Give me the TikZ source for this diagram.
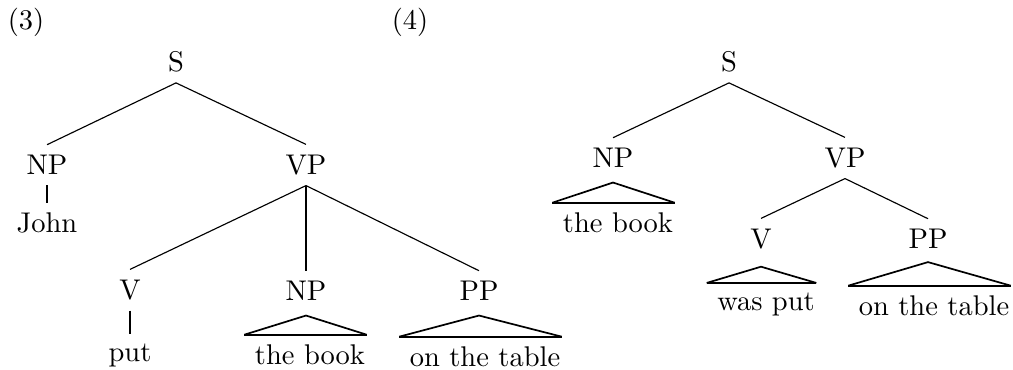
\documentclass[tikz,border=0pt]{standalone}
\usepackage{tikz}
\begin{document}
\begin{tikzpicture}[x=0.351pt,y=-0.351pt,cat/.style={inner sep=3.5pt},word/.style={anchor=base,inner xsep=0pt,inner ysep=3.5pt},branch/.style={thin},unary/.style={thick},roof/.style={semithick},roofbase/.style={thick}]
\useasboundingbox (0,0) rectangle (1013,370);
\node (exA) at (26,22) {(3)};
\node[cat] (SA) at (176,62) {S};
\node[cat] (NPA) at (47,165) {NP};
\node[cat] (VPA) at (306,165) {VP};
\node[word] (john) at (47,233) {John};
\node[cat] (VA) at (130,290) {V};
\node[cat] (NPAb) at (306,291) {NP};
\node[cat] (PPA) at (479,291) {PP};
\node[word] (putA) at (130,362) {put};
\node[word] (bookA) at (310,365) {the book};
\node[word] (tableA) at (485,367) {on the table};
\draw[branch] (SA.south)--(NPA.north);
\draw[branch] (SA.south)--(VPA.north);
\draw[unary] (NPA.south)--(NPA.south|-john.north);
\draw[branch] (VPA.south)--(VA.north);
\draw[unary] (VPA.south)--(NPAb.north);
\draw[branch] (VPA.south)--(PPA.north);
\draw[unary] (VA.south)--(VA.south|-putA.north);
\draw[roof] ([xshift=-3.5pt]bookA.north west)--([yshift=-1.5pt]NPAb.south)--([xshift=0.35pt]bookA.north east);
\draw[roofbase] ([xshift=-3.5pt]bookA.north west)--([xshift=0.35pt]bookA.north east);
\draw[roof] ([xshift=-3.5pt]tableA.north west)--([yshift=-1.5pt]PPA.south)--([xshift=0.35pt]tableA.north east);
\draw[roofbase] ([xshift=-3.5pt]tableA.north west)--([xshift=0.35pt]tableA.north east);
\node (exB) at (410,22) {(4)};
\node[cat] (SB) at (729,62) {S};
\node[cat] (NPB) at (613,158) {NP};
\node[cat] (VPB) at (845,158) {VP};
\node[word] (bookB) at (618,233) {the book};
\node[cat] (VB) at (761,239) {V};
\node[cat] (PPB) at (928,239) {PP};
\node[word] (putB) at (766,311) {was put};
\node[word] (tableB) at (934,316) {on the table};
\draw[branch] (SB.south)--(NPB.north);
\draw[branch] (SB.south)--(VPB.north);
\draw[branch] (VPB.south)--(VB.north);
\draw[branch] (VPB.south)--(PPB.north);
\draw[roof] ([xshift=-3.5pt]bookB.north west)--([yshift=-1.5pt]NPB.south)--([xshift=0.35pt]bookB.north east);
\draw[roofbase] ([xshift=-3.5pt]bookB.north west)--([xshift=0.35pt]bookB.north east);
\draw[roof] ([xshift=-3.5pt]putB.north west)--([yshift=-2.5pt]VB.south)--([xshift=0.35pt]putB.north east);
\draw[roofbase] ([xshift=-3.5pt]putB.north west)--([xshift=0.35pt]putB.north east);
\draw[roof] ([xshift=-3.5pt]tableB.north west)--([yshift=-1pt]PPB.south)--([xshift=0.35pt]tableB.north east);
\draw[roofbase] ([xshift=-3.5pt]tableB.north west)--([xshift=0.35pt]tableB.north east);
\end{tikzpicture}
\end{document}
